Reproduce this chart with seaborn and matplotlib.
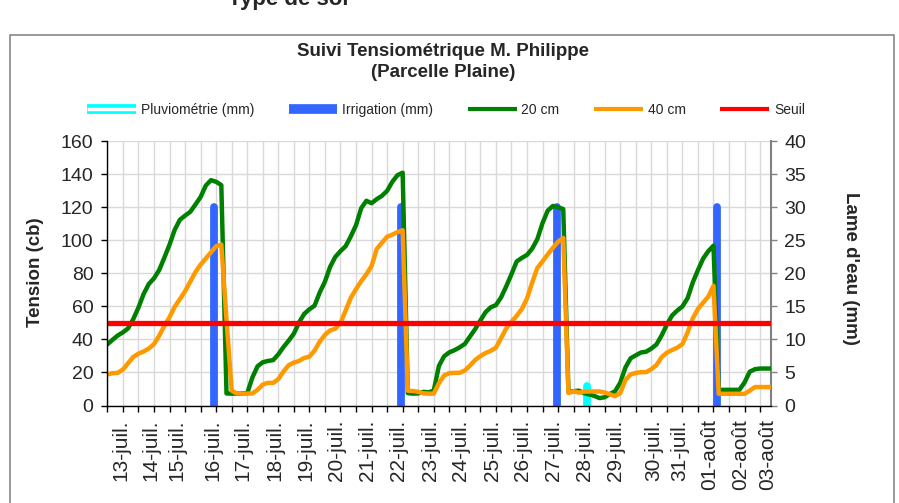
import numpy as np
import pandas as pd
import matplotlib
matplotlib.use("Agg")
import matplotlib.pyplot as plt
import seaborn as sns
from matplotlib.lines import Line2D
from matplotlib.patches import Rectangle

# ---------------- data ----------------
# reading index (three readings per tick interval of the category axis)
n_readings = 129
reading_pos = np.arange(n_readings) / 3.0

tension_20cm = [
    37, 39.8, 42.4, 44.3, 46.7, 52.3, 59.3, 67.5, 73.6, 77,
    82, 89.5, 97.4, 106.4, 112.5, 115, 117.3, 121.7, 126.3, 133.2,
    136.5, 135.5, 133.5, 7.3, 7.2, 7.2, 7.3, 7.5, 17, 23.8,
    26.2, 27, 27.5, 31, 35.4, 39.3, 43.5, 50.3, 55.5, 58.3,
    60.5, 68.5, 75, 84, 90, 93.5, 96.5, 102.5, 109.2, 119.5,
    124, 122.5, 125, 127, 130, 135.5, 139.5, 141, 7.5, 7.2,
    7.3, 8.3, 8.0, 9, 24, 29.8, 32.2, 33.5, 35.2, 37.3,
    41.8, 46.3, 51.5, 56.5, 59.5, 60.8, 65.5, 72.2, 79.5, 87.2,
    89.4, 91.2, 95, 100.8, 110.5, 118, 120.9, 120, 119, 8.3,
    8.7, 9.0, 7.5, 6.7, 5.8, 4.5, 5.0, 7.0, 8.6, 13.8,
    23, 28.6, 30.4, 32.1, 32.6, 34.5, 37, 42.5, 49, 54.5,
    57.5, 60, 65, 74.5, 82, 89, 93.5, 96.8, 9.5, 9.5,
    9.5, 9.5, 9.5, 14, 20.5, 22, 22.4, 22.4, 22.4,
]

tension_40cm = [
    18.8, 19.6, 19.8, 21.8, 25.6, 29.4, 31.4, 32.7, 34.5, 37.2,
    42.2, 48.2, 53.5, 59.8, 64.4, 69.2, 75, 80.8, 85.3, 89,
    92.6, 96.5, 97.5, 52, 9, 7.3, 7.2, 7.2, 7.3, 9.5,
    12.7, 13.7, 13.7, 16, 20.6, 24.4, 26, 27, 28.8, 29.6,
    33.3, 38.7, 42.8, 45.5, 46.5, 50, 57.5, 65.3, 70.5, 75.3,
    79.5, 84.5, 94.8, 98.6, 102.2, 103.5, 105, 106.2, 9, 8.8,
    8.3, 7.4, 7.2, 7.2, 13.5, 18.2, 19.6, 19.8, 19.8, 21.2,
    24.2, 27.6, 29.9, 31.8, 33.1, 35, 40.8, 46.8, 50.7, 54.3,
    58.4, 64.8, 74.5, 83.3, 87.3, 91.5, 95.5, 99.2, 101.5, 7.5,
    8.7, 7.8, 8.4, 8.5, 8.5, 8.5, 7.9, 6.8, 5.7, 7.5,
    15.5, 18.8, 19.8, 20.2, 20.2, 22, 24.5, 29.3, 32, 33.6,
    35, 37.2, 44.2, 52.8, 58.5, 62.3, 66, 72.5, 7.1, 7.1,
    7.1, 7.1, 7.1, 7.1, 9, 11.2, 11.2, 11.2, 11.2,
]

seuil_value = 50

date_labels = ["13-juil.", "14-juil.", "15-juil.", "16-juil.", "17-juil.", "18-juil.",
               "19-juil.", "20-juil.", "21-juil.", "22-juil.", "23-juil.", "24-juil.",
               "25-juil.", "26-juil.", "27-juil.", "28-juil.", "29-juil.", "30-juil.",
               "31-juil.", "01-août", "02-août", "03-août"]
date_pos = [0.85, 2.78, 4.48, 6.79, 8.74, 10.75, 12.75, 14.77, 16.75, 18.74, 20.77,
            22.73, 24.79, 26.72, 28.71, 30.71, 32.68, 35.17, 36.8, 38.76, 40.74, 42.47]

irrigation_pos = [6.88, 18.87, 28.9, 39.25]
irrigation_mm = [30, 30, 30, 30]
pluvio_pos = [30.83]
pluvio_mm = [3.0]

df = pd.DataFrame({"pos": reading_pos, "t20": tension_20cm, "t40": tension_40cm,
                   "seuil": [seuil_value] * n_readings})

# ---------------- style ----------------
sns.set_theme(style="white")
plt.rcParams["font.family"] = ["Liberation Sans", "DejaVu Sans"]

C_GREEN = "#008000"
C_ORANGE = "#FF9900"
C_RED = "#FF0000"
C_BLUE = "#3366FF"
C_CYAN = "#00FFFF"
C_GRID = "#D9D9D9"

fig = plt.figure(figsize=(8.99, 5.03), dpi=100)
ax = fig.add_axes([0.1194, 0.1938, 0.7377, 0.5252])
ax2 = ax.twinx()
ax.set_zorder(2)
ax2.set_zorder(1)
ax.patch.set_visible(False)

# grid + bars on the secondary axis (behind)
ax2.xaxis.set_visible(True)
ax2.set_xticks(np.arange(0, 43))
ax2.tick_params(axis="x", which="both", bottom=False, top=False,
                labelbottom=False, labeltop=False)
ax2.grid(True, color=C_GRID, lw=1)
ax2.vlines(irrigation_pos, 0, irrigation_mm, colors=C_BLUE, lw=5.6, capstyle="round")
ax2.vlines(pluvio_pos, 0, pluvio_mm, colors=C_CYAN, lw=5.6, capstyle="round")
ax2.set_ylim(0, 40)
ax2.set_yticks(range(0, 41, 5))

# lines on the primary axis
sns.lineplot(data=df, x="pos", y="t20", ax=ax, color=C_GREEN, lw=3.2)
sns.lineplot(data=df, x="pos", y="t40", ax=ax, color=C_ORANGE, lw=3.2)
sns.lineplot(data=df, x="pos", y="seuil", ax=ax, color=C_RED, lw=3.8)

ax.set_xlim(0, 42.67)
ax.set_ylim(0, 160)
ax.set_xlabel("")
ax.set_ylabel("")
ax2.set_ylabel("")

ax.set_xticks(np.arange(0, 43))
ax.set_xticklabels([])
ax.set_xticks(date_pos, date_labels, minor=True)
ax.tick_params(axis="x", which="major", direction="out", length=4.3, width=1,
               color="black", bottom=True)
ax.tick_params(axis="x", which="minor", length=0, labelsize=15, labelrotation=90,
               pad=10, bottom=True)
ax.set_yticks(range(0, 161, 20))
ax.tick_params(axis="y", direction="out", length=4, width=1, color="black",
               labelsize=14, pad=6, left=True)
ax2.tick_params(axis="y", direction="out", length=4, width=1, color="#808080",
                labelsize=14, pad=6, right=True)

for s in ["top", "right"]:
    ax.spines[s].set_visible(False)
ax.spines["left"].set_color("black")
ax.spines["bottom"].set_color("black")
ax.spines["left"].set_linewidth(1)
ax.spines["bottom"].set_linewidth(1)
for s in ["top", "left", "bottom"]:
    ax2.spines[s].set_visible(False)
ax2.spines["right"].set_color("#808080")
ax2.spines["right"].set_linewidth(1.5)

# axis titles
fig.text(35 / 899, 1 - 272 / 503, "Tension (cb)", rotation=90, ha="center", va="center",
         fontsize=13.5, weight="bold")
fig.text(850 / 899, 1 - 268 / 503, "Lame d'eau (mm)", rotation=-90, ha="center",
         va="center", fontsize=13.5, weight="bold")

# title
fig.text(443 / 899, 1 - 62 / 503, "Suivi Tensiométrique M. Philippe\n(Parcelle Plaine)",
         ha="center", va="center", fontsize=13.5, weight="bold", linespacing=1.25)

# heading of the page, partly outside the picture as in the reference
fig.text(288 / 899, 1 - 5 / 503, "Type de sol", ha="center", va="baseline",
         fontsize=16, weight="bold")

# legend
handles = [
    (Line2D([], [], color=C_CYAN, lw=7, solid_capstyle="butt"),
     Line2D([], [], color="white", lw=2.5, solid_capstyle="butt")),
    Line2D([], [], color=C_BLUE, lw=7, solid_capstyle="butt"),
    Line2D([], [], color=C_GREEN, lw=3, solid_capstyle="butt"),
    Line2D([], [], color=C_ORANGE, lw=3, solid_capstyle="butt"),
    Line2D([], [], color=C_RED, lw=3, solid_capstyle="butt"),
]
labels = ["Pluviométrie (mm)", "Irrigation (mm)", "20 cm", "40 cm", "Seuil"]
fig.legend(handles, labels, loc="center", bbox_to_anchor=(446 / 899, 1 - 110 / 503),
           ncol=5, frameon=False, fontsize=10, handlelength=3.5, handletextpad=0.35,
           columnspacing=2.5)

# chart frame
fig.patches.append(Rectangle((10 / 899, -0.02), (894 - 10) / 899, (503 - 35) / 503 + 0.02,
                             transform=fig.transFigure, fill=False,
                             edgecolor="#888888", lw=1.2))

fig.savefig("out.png", dpi=100)
